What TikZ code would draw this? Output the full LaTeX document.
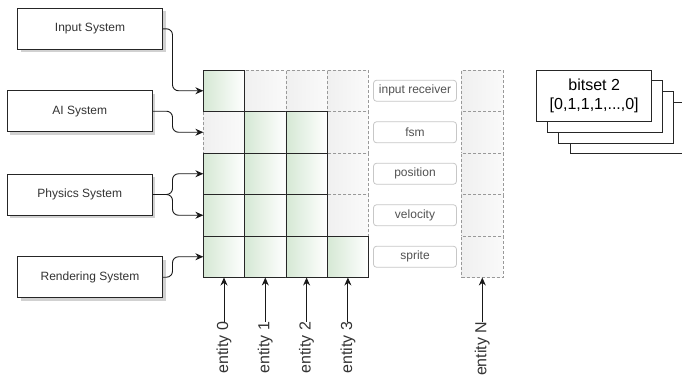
\documentclass[tikz,border=0pt]{standalone}
\usepackage{fontspec}
\setmainfont{Liberation Sans}
\usetikzlibrary{shadows,arrows.meta}
\definecolor{cellgreen}{HTML}{D5E8D4}
\definecolor{txt}{HTML}{333333}
\tikzset{
  sysbox/.style={draw=black!85, fill=white, line width=0.9pt, minimum width=145pt, minimum height=41pt,
    inner sep=0pt, text=txt, font=\fontsize{12}{14}\selectfont,
    drop shadow={shadow xshift=3pt, shadow yshift=-3pt, fill=black!30, opacity=0.6}},
  usedcell/.style={draw=black!85, line width=0.9pt, left color=cellgreen, right color=white,
    minimum width=41.3pt, minimum height=41.5pt, inner sep=0pt, outer sep=0pt},
  freecell/.style={draw=black!40, dash pattern=on 3pt off 2pt, line width=0.7pt, left color=black!6, right color=black!2,
    minimum width=41.3pt, minimum height=41.5pt, inner sep=0pt, outer sep=0pt},
  complabel/.style={draw=black!22, rounded corners=3pt, fill=white, line width=0.8pt, minimum width=83pt,
    minimum height=21pt, inner sep=0pt, text=txt!85, font=\fontsize{12}{14}\selectfont},
  conn/.style={draw=black!90, line width=0.9pt, rounded corners=6pt, -{Stealth[length=8pt,width=7pt]}},
  entarrow/.style={draw=black!90, line width=0.9pt, -{Stealth[length=8pt,width=7pt]}},
  entlabel/.style={rotate=90, anchor=east, inner sep=0pt, text=txt, font=\fontsize{16}{19}\selectfont},
  bitbox/.style={draw=black!85, fill=white, line width=0.9pt, minimum width=115pt, minimum height=51.7pt, inner sep=0pt},
}
\begin{document}
\begin{tikzpicture}[x=1pt,y=-1pt]
\clip (0,0) rectangle (682,376);

% systems
\node[sysbox] (inp)  at (90,28.8)   {Input System};
\node[sysbox] (ai)   at (79.8,111.2) {AI System};
\node[sysbox] (phys) at (79.8,194.5) {Physics System};
\node[sysbox] (rend) at (90,277.2)  {Rendering System};

% component storage grid: rows = components, columns = entities
\foreach \r/\pattern in {0/{1,0,0,0}, 1/{0,1,1,0}, 2/{1,1,1,0}, 3/{1,1,1,0}, 4/{1,1,1,1}} {
  \foreach \used [count=\c from 0] in \pattern {
    \ifnum\used=0
      \node[freecell] (c\r\c) at ({224+41.3*\c},{90.75+41.5*\r}) {};
    \fi
  }
}
\foreach \r/\pattern in {0/{1,0,0,0}, 1/{0,1,1,0}, 2/{1,1,1,0}, 3/{1,1,1,0}, 4/{1,1,1,1}} {
  \foreach \used [count=\c from 0] in \pattern {
    \ifnum\used=1
      \node[usedcell] (c\r\c) at ({224+41.3*\c},{90.75+41.5*\r}) {};
    \fi
  }
}

% entity N column
\foreach \r in {0,...,4} {
  \node[freecell, minimum width=41.5pt] (n\r) at (482.3,{90.75+41.5*\r}) {};
}

% component names
\foreach \r/\name in {0/input receiver, 1/fsm, 2/position, 3/velocity, 4/sprite} {
  \node[complabel] (lab\r) at (415,{90.75+41.5*\r}) {\name};
}

% systems to components
\draw[conn] (inp.east) -- (172.5,28.8) |- (c00.west);
\draw[conn] (ai.east) -- (172.5,111.2) |- (c10.west);
\draw[conn] (phys.east) -- (172.5,194.5) |- (c20.west);
\draw[conn] (phys.east) -- (172.5,194.5) |- (c30.west);
\draw[conn] (rend.east) -- (172.5,277.2) |- (c40.west);

% entity labels
\foreach \c in {0,...,3} {
  \node[entlabel] (e\c) at ({224+41.3*\c},321.5) {entity \c};
  \draw[entarrow] (e\c.east) -- (c4\c.south);
}
\node[entlabel] (eN) at (482.3,321.5) {entity N};
\draw[entarrow] (eN.east) -- (n4.south);

% stack of bitsets
\node[bitbox] (b4) at (628.2,127.8) {};
\node[bitbox] (b3) at (616.2,117.3) {};
\node[bitbox] (b2) at (604.7,106.5) {};
\node[bitbox, align=center, font=\fontsize{16}{19}\selectfont] (b1) at (594.2,95.8) {bitset 2\\{[}0,1,1,1,...,0{]}};
\end{tikzpicture}
\end{document}
